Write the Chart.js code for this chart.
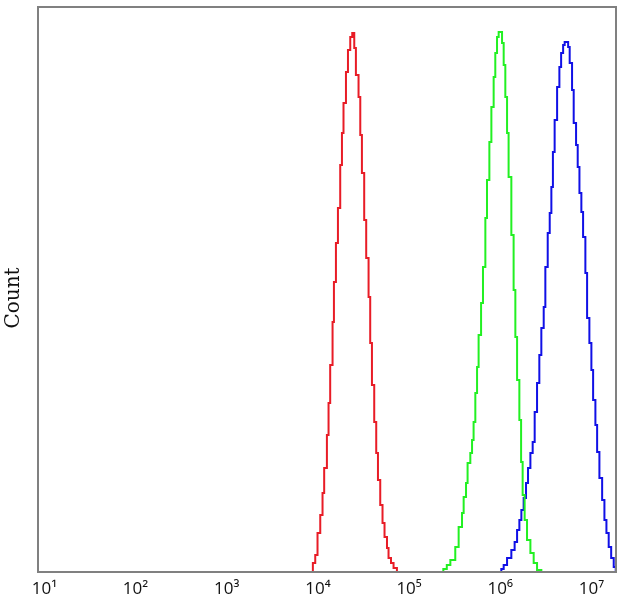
<!DOCTYPE html>
<html>
<head>
<meta charset="utf-8">
<script src="https://cdn.jsdelivr.net/npm/chart.js@4"></script>
<style>
  body { margin: 0; background: #fff; }
  #wrap { width: 622px; height: 604px; position: relative; }
</style>
</head>
<body>
<div id="wrap"><canvas id="histChart"></canvas></div>
<script>
// x values are log10 of fluorescence intensity, counts are events per bin
const tickExponents = [1, 2, 3, 4, 5, 6, 7];
const tickLabels = ["10¹", "10²", "10³", "10⁴", "10⁵", "10⁶", "10⁷"];
const yTitle = "Count";

const redX = [3.916, 3.945, 3.971, 3.996, 4.026, 4.051, 4.069, 4.099, 4.117, 4.135, 4.161, 4.176, 4.198, 4.220, 4.245, 4.264, 4.281, 4.308, 4.330, 4.355, 4.377,
  4.399, 4.417, 4.446, 4.465, 4.483, 4.508, 4.530, 4.556, 4.574, 4.593, 4.618, 4.640, 4.659, 4.684, 4.709, 4.731, 4.758, 4.775, 4.802, 4.830, 4.867];
const redCount = [0, 9, 17, 39, 57, 79, 104, 137, 169, 207, 250, 290, 329, 364, 407, 439, 469, 500, 522, 535, 539,
  524, 497, 475, 437, 399, 352, 314, 275, 229, 187, 150, 119, 92, 67, 49, 35, 24, 14, 9, 4, 0];

const greenX = [5.343, 5.376, 5.414, 5.453, 5.507, 5.544, 5.581, 5.599, 5.625, 5.642, 5.672, 5.691, 5.708, 5.727, 5.746, 5.763, 5.790, 5.811, 5.837, 5.855, 5.881, 5.903, 5.928, 5.946, 5.965, 5.983,
  6.020, 6.038, 6.056, 6.075, 6.092, 6.122, 6.147, 6.166, 6.185, 6.210, 6.229, 6.246, 6.268, 6.294, 6.331, 6.367, 6.404, 6.451];
const greenCount = [0, 3, 7, 12, 25, 45, 59, 75, 89, 109, 119, 132, 150, 179, 205, 237, 269, 305, 354, 392, 430, 465, 495, 519, 535, 540,
  529, 507, 475, 439, 395, 337, 282, 235, 192, 152, 110, 77, 52, 32, 19, 9, 2, 0];

const blueX = [5.983, 6.012, 6.038, 6.075, 6.122, 6.158, 6.185, 6.210, 6.232, 6.257, 6.283, 6.305, 6.331, 6.356, 6.378, 6.404, 6.429, 6.451, 6.477, 6.495, 6.521, 6.543, 6.561, 6.578, 6.597, 6.624, 6.649, 6.668, 6.690, 6.707,
  6.745, 6.762, 6.788, 6.806, 6.832, 6.850, 6.869, 6.890, 6.909, 6.934, 6.953, 6.978, 7.000, 7.019, 7.044, 7.063, 7.088, 7.118, 7.143, 7.165, 7.190, 7.217, 7.245, 7.267];
const blueCount = [0, 3, 7, 14, 22, 30, 42, 52, 62, 74, 89, 104, 119, 130, 160, 189, 217, 244, 265, 305, 339, 359, 385, 420, 452, 485, 505, 519, 527, 530,
  525, 509, 482, 449, 427, 405, 379, 360, 335, 299, 254, 229, 202, 172, 147, 120, 94, 72, 52, 39, 25, 14, 5, 0];

const X_MIN = 0.93;
const X_MAX = 7.27;
const Y_MAX = 565;

function toPoints(xs, ys) {
  return xs.map((x, i) => ({ x: x, y: ys[i] }));
}

function series(label, xs, ys, color) {
  return {
    label: label,
    data: toPoints(xs, ys),
    borderColor: color,
    borderWidth: 2,
    pointRadius: 0,
    stepped: true,
    fill: false,
  };
}

// grey box round the plot area, and the rotated axis title
const frame = {
  id: "frame",
  afterDatasetsDraw(chart) {
    const a = chart.chartArea;
    const ctx = chart.ctx;
    ctx.save();
    ctx.strokeStyle = "#808080";
    ctx.lineWidth = 2;
    ctx.strokeRect(a.left, a.top, a.right - a.left, a.bottom - a.top);
    ctx.translate(14, 298);
    ctx.rotate(-Math.PI / 2);
    ctx.fillStyle = "#111";
    ctx.font = "20px 'DejaVu Serif'";
    ctx.textAlign = "center";
    ctx.textBaseline = "middle";
    ctx.fillText(yTitle, 0, 0);
    ctx.restore();
  },
};

new Chart(document.getElementById("histChart").getContext("2d"), {
  type: "line",
  data: {
    datasets: [
      series("Red", redX, redCount, "#e81c26"),
      series("Green", greenX, greenCount, "#22f022"),
      series("Blue", blueX, blueCount, "#1010e6"),
    ],
  },
  options: {
    responsive: true,
    maintainAspectRatio: false,
    animation: false,
    layout: { padding: { top: 7, right: 6, left: 0, bottom: 0 } },
    plugins: {
      legend: { display: false },
      tooltip: { enabled: false },
    },
    scales: {
      x: {
        type: "linear",
        min: X_MIN,
        max: X_MAX,
        grid: { display: false, drawTicks: false },
        border: { display: false },
        afterBuildTicks: (scale) => {
          scale.ticks = tickExponents.map((v) => ({ value: v }));
        },
        afterFit: (scale) => { scale.height = 32; },
        ticks: {
          padding: 7,
          maxRotation: 0,
          autoSkip: false,
          color: "#111",
          font: { family: "Open Sans", size: 17 },
          callback: (value) => tickLabels[tickExponents.indexOf(value)],
        },
      },
      y: {
        min: 0,
        max: Y_MAX,
        grid: { display: false, drawTicks: false },
        border: { display: false },
        ticks: { display: false },
        afterFit: (scale) => { scale.width = 38; },
      },
    },
  },
  plugins: [frame],
});
</script>
</body>
</html>
